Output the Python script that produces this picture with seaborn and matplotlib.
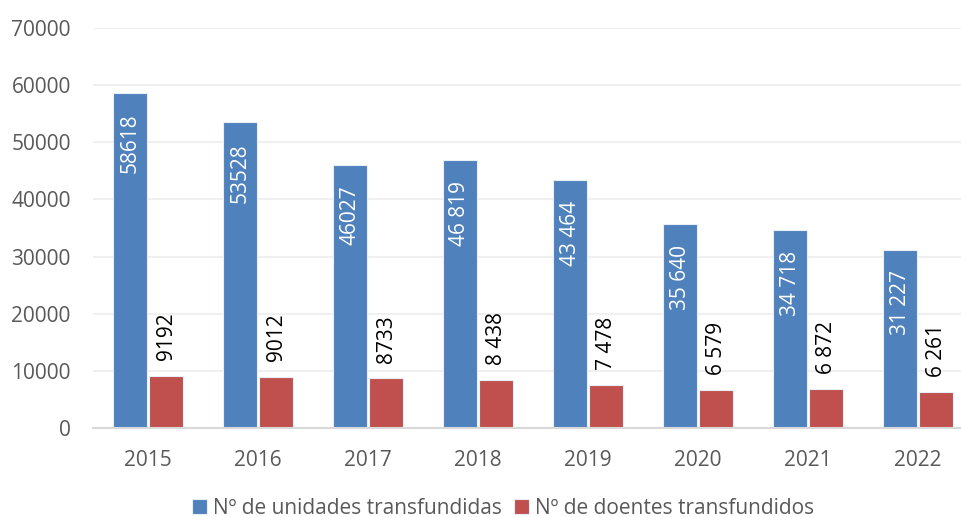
import pandas as pd
import seaborn as sns
import matplotlib.pyplot as plt

# dados
anos = ['2015', '2016', '2017', '2018', '2019', '2020', '2021', '2022']
unidades = [58618, 53528, 46027, 46819, 43464, 35640, 34718, 31227]
doentes = [9192, 9012, 8733, 8438, 7478, 6579, 6872, 6261]
rot_unidades = ['58618', '53528', '46027', '46 819', '43 464', '35 640', '34 718', '31 227']
rot_doentes = ['9192', '9012', '8733', '8 438', '7 478', '6 579', '6 872', '6 261']
series = ['Nº de unidades transfundidas', 'Nº de doentes transfundidos']

df = pd.DataFrame({
    'Ano': anos * 2,
    'Valor': unidades + doentes,
    'Serie': [series[0]] * len(anos) + [series[1]] * len(anos),
})

sns.set_style('white')
plt.rcParams['font.family'] = ['Open Sans', 'DejaVu Sans']

fig = plt.figure(figsize=(9.62, 5.17), dpi=100)
ax = fig.add_axes([0.0967, 0.172, 0.915, 0.774])

sns.barplot(data=df, x='Ano', y='Valor', hue='Serie', order=anos, hue_order=series,
            palette=['#4F81BD', '#C0504D'], width=0.66, gap=0.06,
            edgecolor='#E8EEF6', linewidth=0.8, saturation=1, ax=ax)

# rótulos dos valores
for patch, txt in zip(ax.containers[0], rot_unidades):
    ax.annotate(txt, (patch.get_x() + patch.get_width() / 2, patch.get_height()),
                xytext=(0, -15), textcoords='offset points', ha='center', va='top',
                rotation=90, color='white', fontsize=15)
for patch, txt in zip(ax.containers[1], rot_doentes):
    ax.annotate(txt, (patch.get_x() + patch.get_width() / 2, patch.get_height()),
                xytext=(0, 11), textcoords='offset points', ha='center', va='bottom',
                rotation=90, color='black', fontsize=15)

ax.set_ylim(0, 70000)
ax.set_yticks(range(0, 70001, 10000))
ax.set_xlabel('')
ax.set_ylabel('')
ax.grid(axis='y', color='#F0F0F0', linewidth=1.5)
ax.set_axisbelow(True)
for s in ['left', 'top', 'right']:
    ax.spines[s].set_visible(False)
ax.spines['bottom'].set_color('#D9D9D9')
ax.spines['bottom'].set_linewidth(1.5)
ax.tick_params(axis='both', length=0, labelsize=15, labelcolor='#595959')
ax.tick_params(axis='y', pad=16)
ax.tick_params(axis='x', pad=16)

handles, labels = ax.get_legend_handles_labels()
ax.legend_.remove()
fig.legend(handles, labels, loc='lower center', bbox_to_anchor=(0.523, -0.04), ncol=2,
           frameon=False, fontsize=15, labelcolor='#595959', handlelength=0.7,
           handleheight=0.7, handletextpad=0.3, columnspacing=0.6)

fig.savefig('out.png', dpi=100)
